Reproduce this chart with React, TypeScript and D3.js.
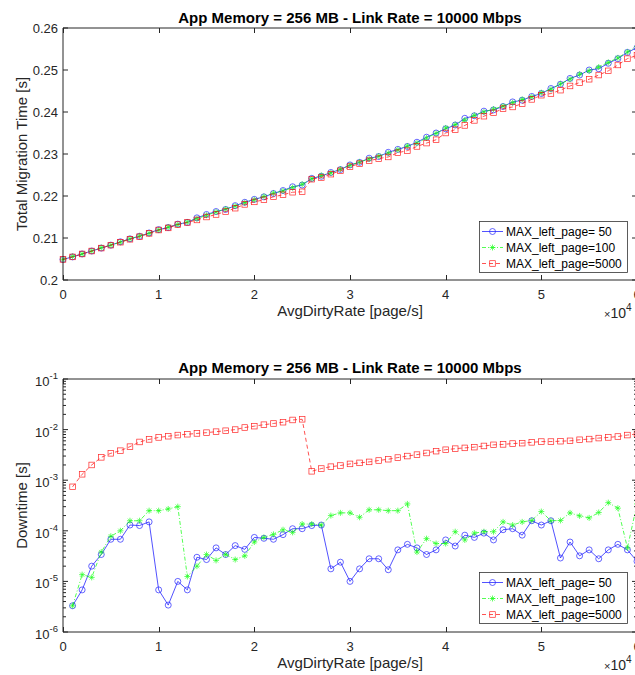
import React, { useEffect, useRef } from 'react';
import * as d3 from 'd3';

// AvgDirtyRate in units of 1e4 page/s
const rateTop = [
  0, 0.1, 0.2, 0.3, 0.4, 0.5, 0.6, 0.7, 0.8, 0.9,
  1, 1.1, 1.2, 1.3, 1.4, 1.5, 1.6, 1.7, 1.8, 1.9,
  2, 2.1, 2.2, 2.3, 2.4, 2.5, 2.6, 2.7, 2.8, 2.9,
  3, 3.1, 3.2, 3.3, 3.4, 3.5, 3.6, 3.7, 3.8, 3.9,
  4, 4.1, 4.2, 4.3, 4.4, 4.5, 4.6, 4.7, 4.8, 4.9,
  5, 5.1, 5.2, 5.3, 5.4, 5.5, 5.6, 5.7, 5.8, 5.9,
  6,
];
const rateBottom = rateTop.slice(1);

// Total migration time [s]
const migP50 = [
  0.2049, 0.2055, 0.2062, 0.2069, 0.2076, 0.2083, 0.2091, 0.2098, 0.2104, 0.2112,
  0.2120, 0.2125, 0.2133, 0.2137, 0.2148, 0.2156, 0.2163, 0.2168, 0.2177, 0.2185,
  0.2192, 0.2198, 0.2206, 0.2213, 0.2222, 0.2226, 0.2242, 0.2247, 0.2256, 0.2263,
  0.2274, 0.2280, 0.2290, 0.2294, 0.2304, 0.2311, 0.2318, 0.2328, 0.2340, 0.2350,
  0.2360, 0.2369, 0.2385, 0.2391, 0.2402, 0.2405, 0.2413, 0.2424, 0.2428, 0.2437,
  0.2444, 0.2456, 0.2466, 0.2480, 0.2488, 0.2500, 0.2503, 0.2516, 0.2527, 0.2542,
  0.2553,
];
const migP100 = [
  0.2049, 0.2056, 0.2062, 0.2069, 0.2077, 0.2083, 0.2090, 0.2098, 0.2105, 0.2111,
  0.2119, 0.2126, 0.2132, 0.2138, 0.2146, 0.2154, 0.2162, 0.2169, 0.2176, 0.2184,
  0.2191, 0.2199, 0.2207, 0.2212, 0.2220, 0.2228, 0.2241, 0.2249, 0.2255, 0.2264,
  0.2273, 0.2281, 0.2288, 0.2295, 0.2302, 0.2310, 0.2319, 0.2326, 0.2338, 0.2349,
  0.2362, 0.2370, 0.2381, 0.2392, 0.2400, 0.2407, 0.2414, 0.2422, 0.2430, 0.2436,
  0.2446, 0.2454, 0.2467, 0.2478, 0.2490, 0.2498, 0.2507, 0.2518, 0.2529, 0.2543,
  0.2556,
];
const migP5000 = [
  0.2049, 0.2055, 0.2062, 0.2069, 0.2076, 0.2083, 0.2090, 0.2097, 0.2103, 0.2111,
  0.2119, 0.2124, 0.2132, 0.2137, 0.2143, 0.2150, 0.2156, 0.2163, 0.2171, 0.2180,
  0.2186, 0.2191, 0.2198, 0.2203, 0.2209, 0.2210, 0.2240, 0.2244, 0.2252, 0.2260,
  0.2270, 0.2277, 0.2284, 0.2289, 0.2293, 0.2303, 0.2308, 0.2318, 0.2326, 0.2334,
  0.2350, 0.2358, 0.2368, 0.2380, 0.2390, 0.2398, 0.2408, 0.2412, 0.2420, 0.2430,
  0.2440, 0.2444, 0.2452, 0.2462, 0.2470, 0.2478, 0.2488, 0.2498, 0.2512, 0.2527,
  0.2535,
];

// Downtime [s] (starts at 0.1e4)
const downP50 = [
  3.3e-6, 6.8e-6, 2.0e-5, 3.4e-5, 6.8e-5, 6.8e-5, 1.3e-4, 1.27e-4, 1.5e-4, 6.8e-6,
  3.4e-6, 1.0e-5, 6.8e-6, 3.0e-5, 2.7e-5, 4.6e-5, 3.4e-5, 5.1e-5, 4.3e-5, 7.4e-5,
  7.1e-5, 6.8e-5, 8.4e-5, 1.1e-4, 1.1e-4, 1.27e-4, 1.3e-4, 1.77e-5, 2.4e-5, 1.0e-5,
  1.77e-5, 2.8e-5, 2.8e-5, 1.7e-5, 4.2e-5, 5.4e-5, 4.6e-5, 3.4e-5, 4.2e-5, 6.6e-5,
  5.0e-5, 8.2e-5, 7.4e-5, 9.0e-5, 6.6e-5, 1.05e-4, 1.1e-4, 8.2e-5, 1.58e-4, 1.3e-4,
  1.58e-4, 2.9e-5, 6.0e-5, 3.2e-5, 4.2e-5, 2.8e-5, 4.2e-5, 5.4e-5, 4.2e-5, 2.5e-5,
];
const downP100 = [
  3.3e-6, 1.36e-5, 1.2e-5, 3.8e-5, 7.8e-5, 1.0e-4, 1.58e-4, 1.58e-4, 2.5e-4, 2.5e-4,
  2.7e-4, 3.0e-4, 1.25e-5, 2.0e-5, 3.4e-5, 2.6e-5, 3.4e-5, 2.7e-5, 3.2e-5, 6.0e-5,
  7.4e-5, 8.5e-5, 1.05e-4, 9.3e-5, 1.36e-4, 1.36e-4, 1.3e-4, 2.0e-4, 2.26e-4, 2.26e-4,
  1.85e-4, 2.6e-4, 2.6e-4, 2.5e-4, 2.5e-4, 3.4e-4, 3.8e-5, 7.0e-5, 5.6e-5, 5.6e-5,
  9.6e-5, 6.6e-5, 9.0e-5, 9.6e-5, 9.6e-5, 1.5e-4, 1.3e-4, 1.5e-4, 1.6e-4, 2.4e-4,
  1.58e-4, 1.6e-4, 2.26e-4, 1.97e-4, 1.8e-4, 2.3e-4, 3.6e-4, 2.8e-4, 4.6e-5, 3.4e-4,
];
const downP5000 = [
  7.4e-4, 1.31e-3, 2.0e-3, 2.83e-3, 3.4e-3, 3.83e-3, 4.6e-3, 5.7e-3, 6.4e-3, 7.0e-3,
  7.4e-3, 7.8e-3, 8.1e-3, 8.4e-3, 8.7e-3, 9.1e-3, 9.5e-3, 1.0e-2, 1.1e-2, 1.17e-2,
  1.25e-2, 1.32e-2, 1.4e-2, 1.55e-2, 1.6e-2, 1.5e-3, 1.7e-3, 1.85e-3, 1.95e-3, 2.1e-3,
  2.2e-3, 2.3e-3, 2.45e-3, 2.6e-3, 2.8e-3, 3.0e-3, 3.2e-3, 3.45e-3, 3.75e-3, 4.0e-3,
  4.2e-3, 4.35e-3, 4.5e-3, 4.75e-3, 5.0e-3, 5.1e-3, 5.3e-3, 5.4e-3, 5.6e-3, 5.8e-3,
  5.8e-3, 5.9e-3, 6.0e-3, 6.3e-3, 6.5e-3, 6.8e-3, 7.0e-3, 7.3e-3, 7.8e-3, 8.2e-3,
];

const legendLabels = ['MAX_left_page= 50', 'MAX_left_page=100', 'MAX_left_page=5000'];
const xTicks = [0, 1, 2, 3, 4, 5, 6];
const migTicks = [0.2, 0.21, 0.22, 0.23, 0.24, 0.25, 0.26];
const migTickLabels = ['0.2', '0.21', '0.22', '0.23', '0.24', '0.25', '0.26'];
const downExponents = [-6, -5, -4, -3, -2, -1];

const TITLE = 'App Memory = 256 MB - Link Rate = 10000 Mbps';
const FONT = '"Liberation Sans", Arial, Helvetica, sans-serif';
const AXIS = '#262626';
const styles = [
  { color: '#0000ff', dash: null, marker: 'circle' },
  { color: '#00ff00', dash: '4,2,1,2', marker: 'star' },
  { color: '#ff0000', dash: '4,3', marker: 'square' },
];

function drawMarker(g, kind, color, x, y) {
  if (kind === 'circle') {
    g.append('circle').attr('cx', x).attr('cy', y).attr('r', 3)
      .attr('fill', 'none').attr('stroke', color).attr('stroke-width', 0.7);
  } else if (kind === 'square') {
    g.append('rect').attr('x', x - 2.8).attr('y', y - 2.8).attr('width', 5.6).attr('height', 5.6)
      .attr('fill', 'none').attr('stroke', color).attr('stroke-width', 0.7);
  } else {
    const s = 3, a = 2.1;
    g.append('path')
      .attr('d', `M${x},${y - s}L${x},${y + s}M${x - s},${y}L${x + s},${y}M${x - a},${y - a}L${x + a},${y + a}M${x - a},${y + a}L${x + a},${y - a}`)
      .attr('stroke', color).attr('stroke-width', 0.7).attr('fill', 'none');
  }
}

function drawPanel(svg, cfg) {
  const { top, bottom, y, xs, series, yLabel, titleY, legendTop, logTicks } = cfg;
  const left = 63, right = 637;
  const x = d3.scaleLinear().domain([0, 6]).range([left, right]);
  const g = svg.append('g');

  // series
  series.forEach((vals, i) => {
    const st = styles[i];
    const pts = xs.map((d, j) => [x(d), y(vals[j])]);
    const sg = g.append('g').attr('opacity', 0.85);
    sg.append('path')
      .attr('d', d3.line()(pts))
      .attr('fill', 'none')
      .attr('stroke', st.color)
      .attr('stroke-width', 0.8)
      .attr('stroke-dasharray', st.dash);
    pts.forEach(p => drawMarker(sg, st.marker, st.color, p[0], p[1]));
  });

  // frame
  const frame = g.append('g').attr('stroke', AXIS).attr('stroke-width', 1).attr('fill', 'none');
  frame.append('path').attr('d', `M${left},${top}L${right},${top}L${right},${bottom}L${left},${bottom}Z`);

  // x ticks
  xTicks.forEach(t => {
    const xp = Math.round(x(t)) + 0.5;
    frame.append('line').attr('x1', xp).attr('x2', xp).attr('y1', bottom).attr('y2', bottom - 5);
    frame.append('line').attr('x1', xp).attr('x2', xp).attr('y1', top).attr('y2', top + 5);
    g.append('text').attr('x', x(t)).attr('y', bottom + 19)
      .attr('text-anchor', 'middle').attr('font-size', 13).attr('fill', AXIS)
      .attr('font-family', FONT).text(String(t));
  });

  // y ticks
  if (logTicks) {
    downExponents.forEach(e => {
      const yp = y(Math.pow(10, e));
      frame.append('line').attr('x1', left).attr('x2', left + 5).attr('y1', yp).attr('y2', yp);
      frame.append('line').attr('x1', right).attr('x2', right - 5).attr('y1', yp).attr('y2', yp);
      const t = g.append('text').attr('x', 58).attr('y', yp + 7)
        .attr('text-anchor', 'end').attr('font-size', 13).attr('fill', AXIS).attr('font-family', FONT);
      t.append('tspan').text('10');
      t.append('tspan').attr('dy', -7).attr('font-size', 9.5).text(String(e));
      if (e < -1) {
        for (let k = 2; k <= 9; k++) {
          const ym = y(k * Math.pow(10, e));
          frame.append('line').attr('x1', left).attr('x2', left + 3).attr('y1', ym).attr('y2', ym);
          frame.append('line').attr('x1', right).attr('x2', right - 3).attr('y1', ym).attr('y2', ym);
        }
      }
    });
  } else {
    migTicks.forEach((t, i) => {
      const yp = y(t);
      frame.append('line').attr('x1', left).attr('x2', left + 5).attr('y1', yp).attr('y2', yp);
      frame.append('line').attr('x1', right).attr('x2', right - 5).attr('y1', yp).attr('y2', yp);
      g.append('text').attr('x', 58).attr('y', yp + 5)
        .attr('text-anchor', 'end').attr('font-size', 13).attr('fill', AXIS)
        .attr('font-family', FONT).text(migTickLabels[i]);
    });
  }

  // title
  g.append('text').attr('x', (left + right) / 2).attr('y', titleY)
    .attr('text-anchor', 'middle').attr('font-size', 15).attr('font-weight', 'bold')
    .attr('fill', '#000').attr('font-family', FONT).text(TITLE);

  // axis labels
  g.append('text').attr('x', (left + right) / 2).attr('y', bottom + 36)
    .attr('text-anchor', 'middle').attr('font-size', 15).attr('fill', AXIS)
    .attr('font-family', FONT).text('AvgDirtyRate [page/s]');
  const ex = g.append('text').attr('x', 604).attr('y', bottom + 38)
    .attr('font-size', 14).attr('fill', AXIS).attr('font-family', FONT);
  ex.append('tspan').attr('font-size', 11).text('\u00d7');
  ex.append('tspan').text('10');
  ex.append('tspan').attr('dy', -7).attr('font-size', 10).text('4');

  g.append('text')
    .attr('transform', `translate(27,${(top + bottom) / 2}) rotate(-90)`)
    .attr('text-anchor', 'middle').attr('font-size', 15).attr('fill', AXIS)
    .attr('font-family', FONT).text(yLabel);

  // legend
  const lg = g.append('g');
  lg.append('rect').attr('x', 479.5).attr('y', legendTop + 0.5).attr('width', 148).attr('height', 51)
    .attr('fill', '#fff').attr('stroke', '#333').attr('stroke-width', 0.8);
  legendLabels.forEach((lab, i) => {
    const st = styles[i];
    const ry = legendTop + 10.5 + i * 16;
    const eg = lg.append('g').attr('opacity', 0.85);
    eg.append('line').attr('x1', 482).attr('x2', 503).attr('y1', ry).attr('y2', ry)
      .attr('stroke', st.color).attr('stroke-width', 0.8).attr('stroke-dasharray', st.dash);
    drawMarker(eg, st.marker, st.color, 492.5, ry);
    lg.append('text').attr('x', 506).attr('y', ry + 4.5)
      .attr('font-size', 12).attr('fill', '#000').attr('font-family', FONT).text(lab);
  });
}

export default function App() {
  const svgRef = useRef(null);

  useEffect(() => {
    const svg = d3.select(svgRef.current);
    svg.selectAll('*').remove();

    const yTop = d3.scaleLinear().domain([0.2, 0.26]).range([280, 28]);
    drawPanel(svg, {
      top: 28, bottom: 280, y: yTop, xs: rateTop,
      series: [migP50, migP100, migP5000],
      yLabel: 'Total Migration Time [s]', titleY: 23, legendTop: 221, logTicks: false,
    });

    const yBottom = d3.scaleLog().domain([1e-6, 1e-1]).range([632, 379]);
    drawPanel(svg, {
      top: 379, bottom: 632, y: yBottom, xs: rateBottom,
      series: [downP50, downP100, downP5000],
      yLabel: 'Downtime [s]', titleY: 373, legendTop: 572, logTicks: true,
    });
  }, []);

  return (
    <svg
      ref={svgRef}
      width={635}
      height={675}
      style={{ position: 'absolute', left: 0, top: 0, background: '#fff', display: 'block' }}
    />
  );
}
